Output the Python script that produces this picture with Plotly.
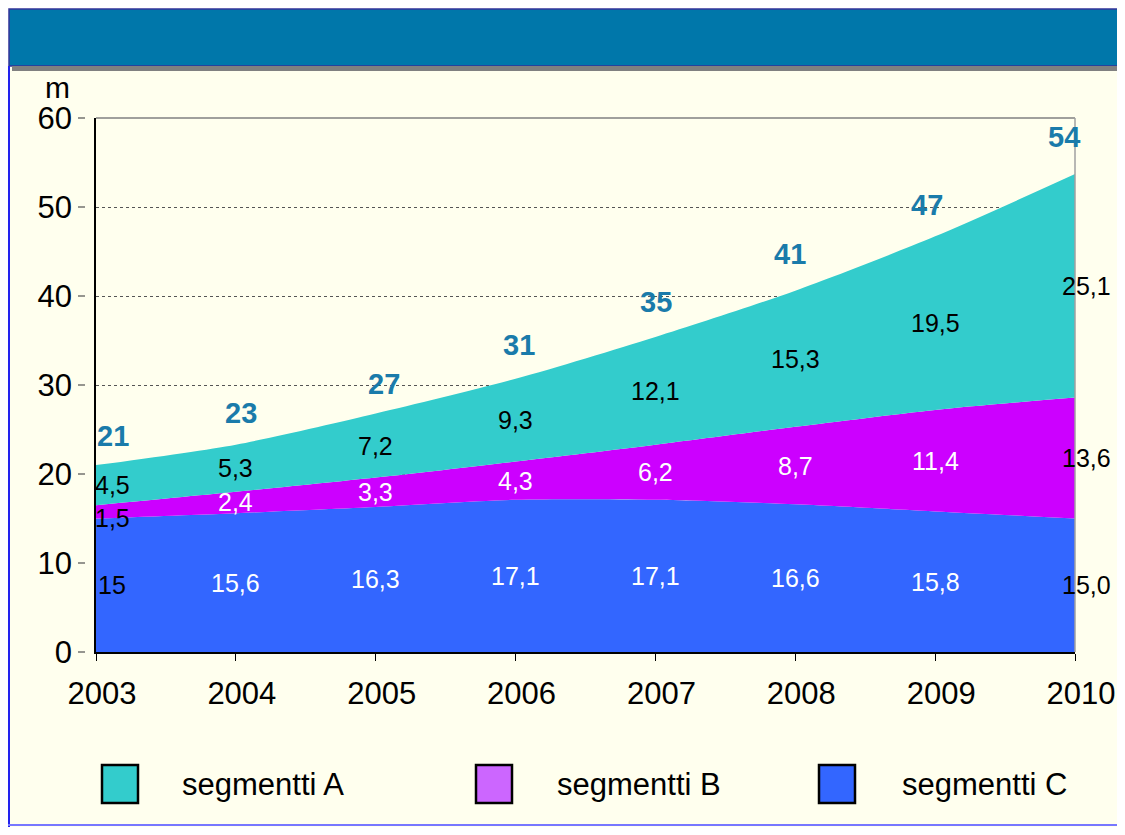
import plotly.graph_objects as go

# the page has an 8px body margin, so the figure is made to fit inside it
W, H = 1109, 819
OFF = 8

years = [2003, 2004, 2005, 2006, 2007, 2008, 2009, 2010]
seg_a = [4.5, 5.3, 7.2, 9.3, 12.1, 15.3, 19.5, 25.1]
seg_b = [1.5, 2.4, 3.3, 4.3, 6.2, 8.7, 11.4, 13.6]
seg_c = [15, 15.6, 16.3, 17.1, 17.1, 16.6, 15.8, 15.0]
y_ticks = [0, 10, 20, 30, 40, 50, 60]
y_max = 60

col_a = "#33CCCC"
col_b = "#CC00FF"
col_b_legend = "#CC66FF"
col_c = "#3366FF"
col_total = "#1A7BAA"
font = "Liberation Sans, Arial, sans-serif"

# nudges for the bold totals so they sit like in the original
tot_dx = [17, 5, 8, 3, 1, -5, -8, -11]
tot_dy = [29, 32, 29, 34, 35, 37, 31, 37]


def px(x):
    # screen pixel column -> paper fraction
    return (x - OFF) / W


def py(y):
    # screen pixel row -> paper fraction
    return 1 - (y - OFF) / H


def fmt(v):
    return str(v).replace(".", ",")


fig = go.Figure()

# stacked areas, bottom first
for name, vals, col in [("segmentti C", seg_c, col_c),
                        ("segmentti B", seg_b, col_b),
                        ("segmentti A", seg_a, col_a)]:
    fig.add_trace(go.Scatter(
        x=years, y=vals, name=name, mode="lines",
        stackgroup="one", fillcolor=col,
        line=dict(width=0, shape="spline", smoothing=0.8, color=col),
        hoverinfo="skip", showlegend=False,
    ))


# shift first / last labels inward so they sit inside the plot
def xs(i, first=16, last=11, mid=0):
    if i == 0:
        return first
    if i == len(years) - 1:
        return last
    return mid


# value labels in the middle of each band
for i, yr in enumerate(years):
    c, b, a = seg_c[i], seg_b[i], seg_a[i]
    edge = i in (0, len(years) - 1)
    fig.add_annotation(x=yr, y=c / 2, text=fmt(c), showarrow=False, xshift=xs(i),
                       font=dict(size=25, color="black" if edge else "white", family=font))
    fig.add_annotation(x=yr, y=c + b / 2, text=fmt(b), showarrow=False, xshift=xs(i),
                       yshift=-6 if i == 0 else 0,
                       font=dict(size=25, color="black" if edge else "white", family=font))
    fig.add_annotation(x=yr, y=c + b + a / 2, text=fmt(a), showarrow=False, xshift=xs(i),
                       font=dict(size=25, color="black", family=font))
    tot = a + b + c
    fig.add_annotation(x=yr, y=tot, text="<b>%d</b>" % round(tot), showarrow=False,
                       yshift=tot_dy[i], xshift=tot_dx[i],
                       font=dict(size=29, color=col_total, family=font))

shapes = [
    # cream page + header band
    dict(type="rect", xref="paper", yref="paper", x0=0, x1=1, y0=0, y1=py(66),
         fillcolor="#FFFFEE", line=dict(width=0), layer="below"),
    dict(type="rect", xref="paper", yref="paper", x0=px(9), x1=1.01, y0=py(66), y1=py(9),
         fillcolor="#0077AA", line=dict(color="#333399", width=1.5), layer="below"),
    dict(type="rect", xref="paper", yref="paper", x0=px(12), x1=1, y0=py(71), y1=py(66),
         fillcolor="#808080", line=dict(width=0), layer="below"),
    dict(type="line", xref="paper", yref="paper", x0=px(9), x1=px(9), y0=0, y1=py(66),
         line=dict(color="#2222EE", width=2)),
    dict(type="line", xref="paper", yref="paper", x0=0, x1=1, y0=py(825), y1=py(825),
         line=dict(color="#7777FF", width=2)),
    # grey top and right frame of plot area
    dict(type="line", xref="paper", yref="paper", x0=px(96), x1=px(1075), y0=py(118), y1=py(118),
         line=dict(color="#808080", width=1.5)),
    dict(type="line", xref="paper", yref="paper", x0=px(1075), x1=px(1075), y0=py(118), y1=py(652),
         line=dict(color="#A0A0A0", width=1.5)),
]

# small detached y tick marks, left of the value axis
for t in y_ticks:
    shapes.append(dict(type="line", xref="paper", yref="y domain",
                       x0=px(78), x1=px(85), y0=t / y_max, y1=t / y_max,
                       line=dict(color="#505050", width=1.2)))

# legend drawn by hand
legend = [("segmentti A", col_a, 102, 180), ("segmentti B", col_b_legend, 476, 555),
          ("segmentti C", col_c, 819, 900)]
for name, col, x0, tx in legend:
    shapes.append(dict(type="rect", xref="paper", yref="paper",
                       x0=px(x0), x1=px(x0 + 36), y0=py(803), y1=py(765),
                       fillcolor=col, line=dict(color="black", width=2.5)))
    fig.add_annotation(xref="paper", yref="paper", x=px(tx), y=py(784), text=name,
                       showarrow=False, xanchor="left", yanchor="middle",
                       font=dict(size=31, color="black", family=font))

fig.add_annotation(xref="paper", yref="paper", x=px(57), y=py(88), text="m",
                   showarrow=False, xanchor="center", yanchor="middle",
                   font=dict(size=30, color="black", family=font))

fig.update_layout(
    width=W, height=H,
    margin=dict(l=0, r=0, t=0, b=0, autoexpand=False),
    paper_bgcolor="white",
    plot_bgcolor="rgba(0,0,0,0)",
    shapes=shapes,
    showlegend=False,
    font=dict(family=font, size=31, color="black"),
)

fig.update_xaxes(
    domain=[px(96), px(1075)], range=[2003, 2010], automargin=False,
    tickvals=years, ticks="outside", ticklen=7, tickcolor="black",
    ticklabelstandoff=6, ticklabelshift=6,
    showline=True, linecolor="black", linewidth=1.5,
    showgrid=False, zeroline=False,
    tickfont=dict(size=31, family=font),
)
fig.update_yaxes(
    domain=[py(652), py(118)], range=[0, y_max], automargin=False,
    tickvals=y_ticks, ticks="", ticklabelstandoff=16,
    showline=True, linecolor="black", linewidth=1.5,
    showgrid=True, gridcolor="#555555", griddash="dot", gridwidth=1,
    zeroline=False,
    tickfont=dict(size=31, family=font),
)

fig.write_html("out.html")
